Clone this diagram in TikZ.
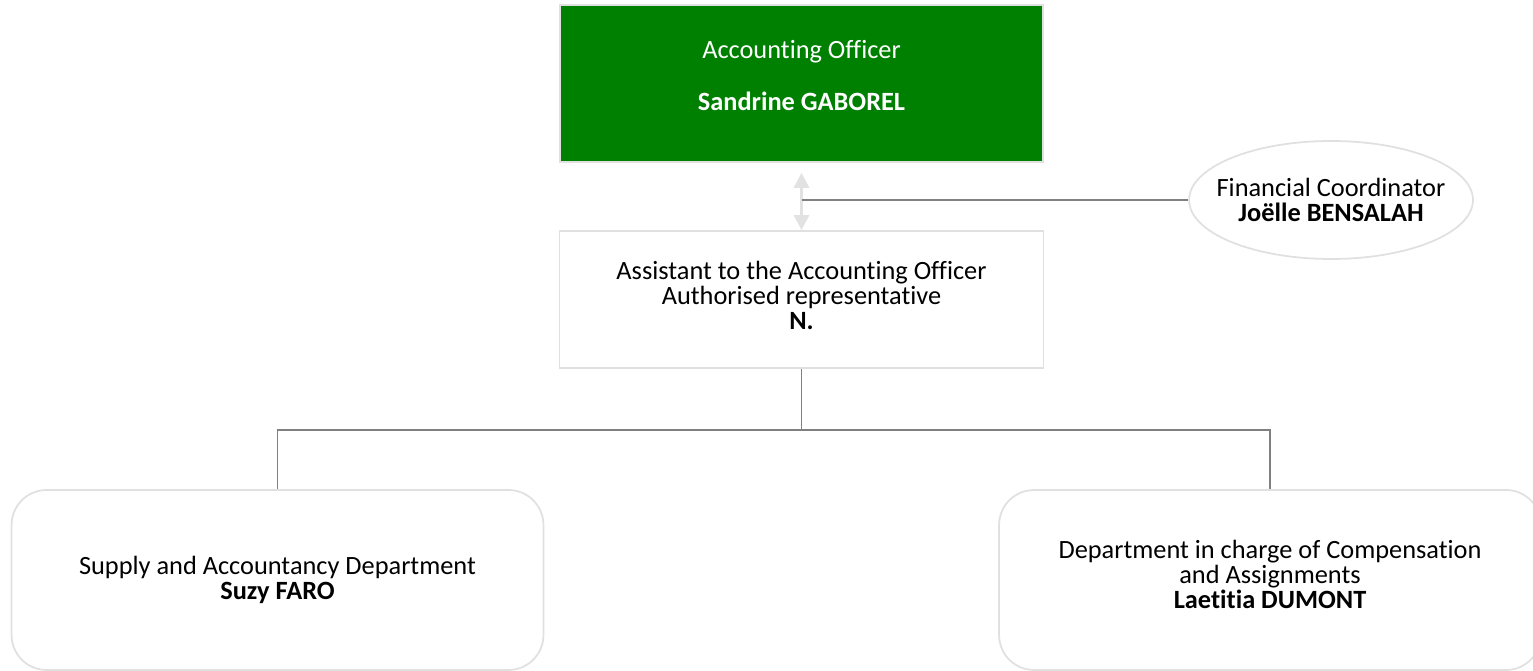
\documentclass[tikz,border=0pt]{standalone}
\usepackage{fontspec}
\setmainfont{Carlito}[Ligatures=NoCommon]
\usepackage{xcolor}
\usepackage{tikz}
\usetikzlibrary{arrows.meta,shapes.geometric}

\definecolor{bossgreen}{RGB}{0,128,0}
\definecolor{edgegray}{RGB}{224,224,224}
\definecolor{linkgray}{RGB}{128,128,128}
\definecolor{arrowgray}{RGB}{226,226,226}

\tikzset{
	unit/.style={draw=edgegray, line width=0.035cm, align=center, inner sep=0pt, font=\fontsize{15}{14.2}\selectfont},
	dept/.style={unit, rounded corners=0.7cm, minimum width=10.64cm, minimum height=3.6cm},
	link/.style={draw=linkgray, line width=0.025cm},
	biarrow/.style={draw=arrowgray, line width=0.06cm, {Triangle[width=0.3cm,length=0.3cm]}-{Triangle[width=0.3cm,length=0.3cm]}}
}

\begin{document}
\begin{tikzpicture}[x=0.02cm,y=-0.02cm]
		\path[use as bounding box, clip] (0,0) rectangle (1533,671);
		\node[unit, fill=bossgreen, text=white, minimum width=9.66cm, minimum height=3.14cm] (boss) at (801.5,83.5)
			{Accounting Officer\\[15.4pt]\textbf{Sandrine GABOREL}\\[-5.4pt]\mbox{}};
		\node[unit, minimum width=9.68cm, minimum height=2.74cm] (asst) at (801.5,299.5)
			{Assistant to the Accounting Officer\\Authorised representative\\\textbf{N.}\rule[-4.6pt]{0pt}{0pt}};
		\node[unit, ellipse, inner xsep=-0.28cm, inner ysep=0.4cm] (fin) at (1331,200)
			{Financial Coordinator\\\textbf{Joëlle BENSALAH}};
		\node[dept] (supply) at (277.5,580)
			{Supply and Accountancy Department\\\textbf{Suzy FARO}};
		\node[dept, minimum width=10.84cm] (comp) at (1270,580)
			{Department in charge of Compensation\\and Assignments\\\textbf{Laetitia DUMONT}\rule[-6.8pt]{0pt}{0pt}};
		% hierarchy
		\draw[biarrow] ([yshift=-0.2cm]boss.south) -- (asst.north);
		\draw[link] (fin.west -| boss.south) -- (fin.west);
		\coordinate (bus) at (801.5,430);
		\draw[link] (asst.south) -- (bus);
		\draw[link] (supply.north) |- (bus) -| (comp.north);
	\end{tikzpicture}
\end{document}
